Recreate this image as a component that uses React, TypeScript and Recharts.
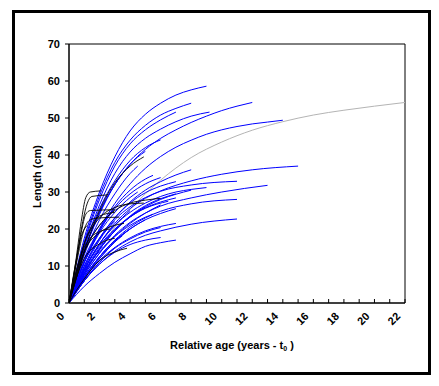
import React from 'react'
import { LineChart, Line, XAxis, YAxis, ReferenceArea, Label } from 'recharts'

type Pt = [number, number]

// growth curves: [relative age, length]
const grayCurve: Pt[] = [
    [0, 0], [1, 7.8], [2, 14.5], [3, 20.5], [4, 25.3], [6, 33.2], [8, 39.3], [10, 43.5],
    [12, 46.7], [14, 49.0], [16, 50.8], [18, 52.1], [20, 53.2], [22, 54.2],
]

const blackCurves: Pt[][] = [
    [[0, 0], [0.4, 10], [0.8, 22], [1.1, 28.5], [1.4, 30], [2.1, 30.3]],
    [[0, 0], [0.5, 12], [0.9, 22], [1.2, 27], [1.5, 28.8], [2.5, 29.2]],
    [[0, 0], [0.4, 9], [0.8, 19], [1.1, 24], [1.4, 25], [3, 25.2]],
    [[0, 0], [0.5, 11], [1, 20], [1.4, 22.5], [2, 23], [3.3, 23.2]],
    [[0, 0], [0.5, 8], [1, 16], [1.5, 21], [2, 23.5], [3, 24.5]],
    [[0, 0], [0.5, 7], [1, 14], [2, 25], [3, 32.5], [4, 37], [4.9, 39.5]],
    [[0, 0], [0.5, 7], [1, 13.5], [2, 21], [3, 25], [4, 27], [5, 27.8], [6, 28.3]],
    [[0, 0], [0.5, 9], [1, 16], [2, 23], [3, 25.8], [4, 26.8], [4.9, 27]],
    [[0, 0], [0.5, 8], [1, 14], [2, 19], [3, 21], [3.6, 21.5]],
    [[0, 0], [0.5, 3.5], [1, 6.5], [2, 11.5], [3, 13.8], [3.8, 14.8]],
    [[0, 0], [0.5, 9], [1, 15], [1.5, 18], [2, 19.3], [2.7, 20]],
    [[0, 0], [0.4, 10], [0.8, 18], [1.2, 21]],
    [[0, 0], [0.5, 7], [1, 12], [2, 16], [3, 17.5]],
]

const blueCurves: Pt[][] = [
    [[0, 0], [1, 17.5], [2, 30], [3, 39.5], [4, 46.5], [5, 51], [6, 54], [7, 56.2], [8, 57.6], [9, 58.6]],
    [[0, 0], [1, 16.5], [2, 29], [3, 38], [4, 44], [5, 48], [6, 50.8], [7, 52.6], [8, 54]],
    [[0, 0], [1, 16], [2, 28], [3, 37], [4, 43], [5, 46.8], [6, 49.5], [7, 51.6]],
    [[0, 0], [1, 15], [2, 26.5], [3, 35], [4, 40.8], [5, 44.5], [6, 47], [7, 49], [8, 50.5], [9.2, 51.6]],
    [[0, 0], [1, 14], [2, 24.5], [3, 32], [4, 37.5], [5, 41.5], [6, 44.5], [7, 46.8], [8, 48.8], [9, 50.5], [10, 52], [11, 53.2], [12, 54.2]],
    [[0, 0], [1, 11.3], [2, 20.1], [3, 26.9], [4, 32.2], [5, 36.4], [6, 39.6], [7, 42.1], [8, 44], [9, 45.6], [10, 46.8], [11, 47.7], [12, 48.4], [13, 48.9], [14, 49.4]],
    [[0, 0], [1, 15], [2, 25.5], [3, 33], [4, 38.5], [5, 42], [6, 44.1]],
    [[0, 0], [1, 9], [2, 16], [3, 21.5], [4, 25.5], [5, 28.3], [6, 30.3], [8, 33], [10, 34.8], [12, 36], [15, 37]],
    [[0, 0], [1, 7.5], [2, 13.5], [3, 18.3], [4, 21.8], [5, 24.3], [6, 26.2], [8, 28.4], [10, 30], [13, 31.8]],
    [[0, 0], [1, 9.5], [2, 17], [3, 22.5], [4, 26], [5, 28.5], [6, 30.2], [8, 31.9], [11, 32.9]],
    [[0, 0], [1, 7], [2, 12.5], [3, 17], [4, 20.5], [5, 23], [6, 24.8], [8, 26.8], [11, 28]],
    [[0, 0], [1, 6], [2, 10.5], [3, 14], [4, 16.5], [5, 18.3], [6, 19.5], [8, 21.3], [11, 22.7]],
    [[0, 0], [1, 10], [2, 17.5], [3, 23], [4, 27], [5, 29.8], [6, 31.6], [7, 32.8]],
    [[0, 0], [1, 11], [2, 19.5], [3, 25.5], [4, 29.5], [5, 32.2], [6, 33.9]],
    [[0, 0], [1, 8.5], [2, 15], [3, 19.8], [4, 23.2], [5, 25.7], [6, 27.3], [7, 28.4]],
    [[0, 0], [1, 6.5], [2, 11.5], [3, 15], [4, 17.6], [5, 19.5], [6, 20.7], [7, 21.5]],
    [[0, 0], [1, 6], [2, 10.5], [3, 13.7], [4, 15.8], [5, 17], [6, 17.7]],
    [[0, 0], [1, 4.5], [2, 8], [3, 11], [4, 13.3], [5, 15.3], [6, 16.3], [7, 17]],
    [[0, 0], [1, 9], [2, 16], [3, 21], [4, 24.5], [5, 27], [6, 28.8], [7, 30], [8, 30.7], [9, 31.2]],
    [[0, 0], [1, 9], [2, 16], [3, 21], [4, 25]],
    [[0, 0], [1, 8], [2, 14.5], [3, 19.5], [4, 23.3], [5, 26]],
    [[0, 0], [1, 7.5], [2, 13.5], [3, 18], [4, 21.5], [5, 24.3], [6, 26.5]],
    [[0, 0], [1, 8], [2, 14.5], [3, 19.5], [4, 23.5], [5, 26.3], [6, 28.2], [7, 29.5]],
    [[0, 0], [1, 11], [2, 19.5], [3, 26], [4, 30.5], [5, 33.5], [5.5, 34.5]],
    [[0, 0], [0.5, 6], [1, 11], [2, 17.5], [3, 22]],
    [[0, 0], [0.5, 8], [1, 14], [2, 21], [2.5, 23]],
    [[0, 0], [1, 7], [2, 12.5], [3, 16.8], [4, 20]],
    [[0, 0], [1, 6], [2, 11], [3, 15]],
    [[0, 0], [1, 6.5], [2, 12], [3, 16.5], [4, 20], [5, 22.5]],
    [[0, 0], [1, 6], [2, 11], [3, 14.8], [4, 17.3], [5, 19.2], [6, 20.4]],
    [[0, 0], [1, 11], [2, 19], [3, 24.5], [4, 28.5], [4.5, 30]],
    [[0, 0], [1, 14], [2, 24], [3, 32], [3.5, 35]],
    [[0, 0], [1, 14], [2, 24.5], [3, 32], [4, 37.5], [5, 41]],
    [[0, 0], [1, 8], [2, 14.5], [3, 19.5], [4, 23.3], [5, 26], [6, 28], [7, 29.4], [8, 30.5]],
    [[0, 0], [1, 9], [2, 15.5], [3, 20], [4, 23.3], [5, 25.6], [6.5, 27.5]],
    [[0, 0], [1, 7], [2, 12.5], [3, 16.8], [4, 20], [5, 22.5], [6, 24.2], [7, 25.5]],
    [[0, 0], [1, 10], [2, 17.5], [3, 23], [4, 27.3], [5, 30.5], [6, 32.8], [7, 34.6], [8, 36]],
    [[0, 0], [1, 13], [2, 22.5], [3, 29.5], [4, 35], [4.5, 37]],
    [[0, 0], [1, 12], [2, 20], [3, 26]],
    [[0, 0], [1, 8.5], [2, 14], [3, 18], [4, 21], [5, 23.2], [5.5, 24]],
    [[0, 0], [1, 7], [2, 12], [3, 16.5], [3.5, 18.2]],
]

const xTicks = [0, 1, 2, 3, 4, 5, 6, 7, 8, 9, 10, 11, 12, 13, 14, 15, 16, 17, 18, 19, 20, 21, 22]
const yTicks = [0, 10, 20, 30, 40, 50, 60, 70]

const FONT = '"Liberation Sans", Arial, sans-serif'

const toRows = (c: Pt[]) => c.map(([x, y]) => ({ x, y }))

function XTick(props: any) {
    const { x, y, payload } = props
    const v = payload.value
    const tx = x - 4
    const ty = y + 14
    return (
        <g>
            <line x1={x} y1={y} x2={x} y2={y - 4} stroke="#000" />
            {v % 2 === 0 && (
                <text x={tx} y={ty} transform={`rotate(-45 ${tx} ${ty})`} textAnchor="end"
                    fontFamily={FONT} fontWeight="bold" fontSize={11} fill="#000">
                    {v}
                </text>
            )}
        </g>
    )
}

function XTitle(props: any) {
    const { viewBox } = props
    const cx = viewBox.x + viewBox.width / 2 - 5
    return (
        <text x={cx} y={viewBox.y + 46} textAnchor="middle" fontFamily={FONT} fontWeight="bold" fontSize={11} fill="#000">
            Relative age (years - t<tspan fontSize={7} dy={2}>0</tspan><tspan dy={-2}> )</tspan>
        </text>
    )
}

function YTitle(props: any) {
    const { viewBox } = props
    const cx = viewBox.x + 8
    const cy = viewBox.y + viewBox.height / 2 + 3
    return (
        <text x={cx} y={cy} transform={`rotate(-90 ${cx} ${cy})`} textAnchor="middle" dominantBaseline="central"
            fontFamily={FONT} fontWeight="bold" fontSize={11} fill="#000">
            Length (cm)
        </text>
    )
}

export default function App() {
    return (
        <div style={{ position: 'absolute', left: 0, top: 0, width: 439, height: 386, background: '#fff' }}>
            <div style={{
                position: 'absolute', left: 12, top: 10, width: 419, height: 365,
                border: '3px solid #000', boxSizing: 'border-box',
            }} />
            <div style={{ position: 'absolute', left: 0, top: 0 }}>
                <LineChart width={439} height={386} margin={{ top: 44, right: 34, left: 29, bottom: 23 }}>
                    <XAxis type="number" dataKey="x" domain={[0, 22]} ticks={xTicks} interval={0}
                        tickSize={0} tickMargin={0} tick={<XTick />} height={60}
                        axisLine={{ stroke: '#000' }} allowDataOverflow>
                        <Label content={<XTitle />} />
                    </XAxis>
                    <YAxis type="number" dataKey="y" domain={[0, 70]} ticks={yTicks} interval={0}
                        width={40} tickSize={4} tickMargin={5}
                        tick={{ fill: '#000', fontFamily: FONT, fontWeight: 'bold', fontSize: 11 }}
                        axisLine={{ stroke: '#000' }} tickLine={{ stroke: '#000' }}>
                        <Label content={<YTitle />} />
                    </YAxis>
                    <ReferenceArea x1={0} x2={22} y1={0} y2={70} fill="none" stroke="#000" strokeWidth={1} />
                    <Line data={toRows(grayCurve)} dataKey="y" type="monotone" stroke="#b4b4b4" strokeWidth={1}
                        dot={false} activeDot={false} isAnimationActive={false} />
                    {blueCurves.map((c, i) => (
                        <Line key={`b${i}`} data={toRows(c)} dataKey="y" type="monotone" stroke="#0000ff" strokeWidth={1}
                            dot={false} activeDot={false} isAnimationActive={false} />
                    ))}
                    {blackCurves.map((c, i) => (
                        <Line key={`k${i}`} data={toRows(c)} dataKey="y" type="monotone" stroke="#000" strokeWidth={0.9}
                            dot={false} activeDot={false} isAnimationActive={false} />
                    ))}
                </LineChart>
            </div>
        </div>
    )
}
